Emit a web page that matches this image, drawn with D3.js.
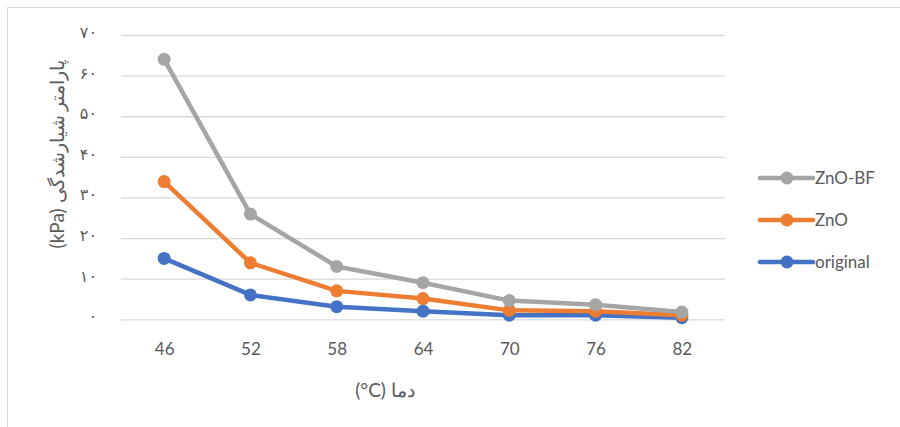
<!DOCTYPE html>
<html><head><meta charset="utf-8">
<script src="https://cdn.jsdelivr.net/npm/d3@7"></script>
<style>
html,body{margin:0;padding:0;background:#fff;}
svg{display:block;}
</style></head>
<body>
<svg id="chart" width="900" height="427"></svg>
<script>
const categories = ["46","52","58","64","70","76","82"];
const seriesNames = ["ZnO-BF","ZnO","original"];
const znoBF = [64.0, 25.9, 13.0, 9.0, 4.6, 3.6, 1.8];
const zno = [33.9, 13.9, 7.0, 5.1, 2.2, 2.0, 1.0];
const original = [15.0, 6.0, 3.1, 2.0, 1.0, 1.0, 0.4];
const yTicks = [0,10,20,30,40,50,60,70];
const yTickLabels = ["۰","۱۰","۲۰","۳۰","۴۰","۵۰","۶۰","۷۰"];
const xTitle = "(°C) دما";
const yTitle = "(kPa) پارامتر شیارشدگی";

const colors = {"ZnO-BF":"#A5A5A5","ZnO":"#ED7D31","original":"#4472C4"};
const seriesData = {"ZnO-BF":znoBF,"ZnO":zno,"original":original};

const svg = d3.select("#chart");
const font = "Lato, 'Open Sans', sans-serif";
const textColor = "#595959";

// chart border
svg.append("rect").attr("x",7.5).attr("y",7.5).attr("width",900).attr("height",440)
  .attr("fill","#fff").attr("stroke","#d9d9d9").attr("stroke-width",1);

const pLeft = 121, pRight = 725, pTop = 35, pBottom = 319.3;
const x = d3.scalePoint().domain(categories).range([pLeft,pRight]).padding(0.5);
const y = d3.scaleLinear().domain([0,70]).range([pBottom,pTop]);

// gridlines
const grid = svg.append("g").attr("transform",`translate(${pLeft},0)`)
  .call(d3.axisLeft(y).tickValues(yTicks).tickSize(-(pRight-pLeft)).tickFormat(""));
grid.select(".domain").remove();
grid.selectAll("line").attr("stroke","#d9d9d9").attr("stroke-width",1.3);

// y labels
const yAx = svg.append("g").attr("transform",`translate(97,0)`)
  .call(d3.axisLeft(y).tickValues(yTicks).tickSize(0).tickPadding(0)
    .tickFormat((d,i)=>yTickLabels[i]));
yAx.select(".domain").remove();
yAx.selectAll("text").attr("font-family","'DejaVu Sans', sans-serif").attr("font-size",16)
  .attr("fill",textColor).attr("dy","0.15em");

// x labels
const xAx = svg.append("g").attr("transform",`translate(0,${pBottom})`)
  .call(d3.axisBottom(x).tickSize(0).tickPadding(24));
xAx.select(".domain").remove();
xAx.selectAll("text").attr("font-family",font).attr("font-size",17).attr("fill",textColor);

// titles
svg.append("text").attr("x",385).attr("y",397).attr("text-anchor","middle")
  .attr("font-family",font).attr("font-size",19).attr("fill",textColor).text(xTitle);
svg.append("text").attr("transform","translate(64,154) rotate(-90)").attr("text-anchor","middle")
  .attr("font-family",font).attr("font-size",19).attr("fill",textColor).text(yTitle);

// lines
const line = d3.line().x((d,i)=>x(categories[i])).y(d=>y(d));
["original","ZnO","ZnO-BF"].forEach(name=>{
  const g = svg.append("g");
  g.append("path").datum(seriesData[name]).attr("d",line).attr("fill","none")
    .attr("stroke",colors[name]).attr("stroke-width",4.5).attr("stroke-linejoin","round");
  g.selectAll("circle").data(seriesData[name]).join("circle")
    .attr("cx",(d,i)=>x(categories[i])).attr("cy",d=>y(d)).attr("r",6.5)
    .attr("fill",colors[name]);
});

// legend
const legY = d3.scalePoint().domain(seriesNames).range([178,262]);
seriesNames.forEach(name=>{
  const g = svg.append("g").attr("transform",`translate(0,${legY(name)})`);
  g.append("line").attr("x1",760).attr("x2",813).attr("stroke",colors[name]).attr("stroke-width",4.5)
    .attr("stroke-linecap","round");
  g.append("circle").attr("cx",787).attr("cy",0).attr("r",6.5).attr("fill",colors[name]);
  g.append("text").attr("x",815).attr("y",6).attr("font-family",font).attr("font-size",17)
    .attr("fill",textColor).text(name);
});
</script>
</body></html>
